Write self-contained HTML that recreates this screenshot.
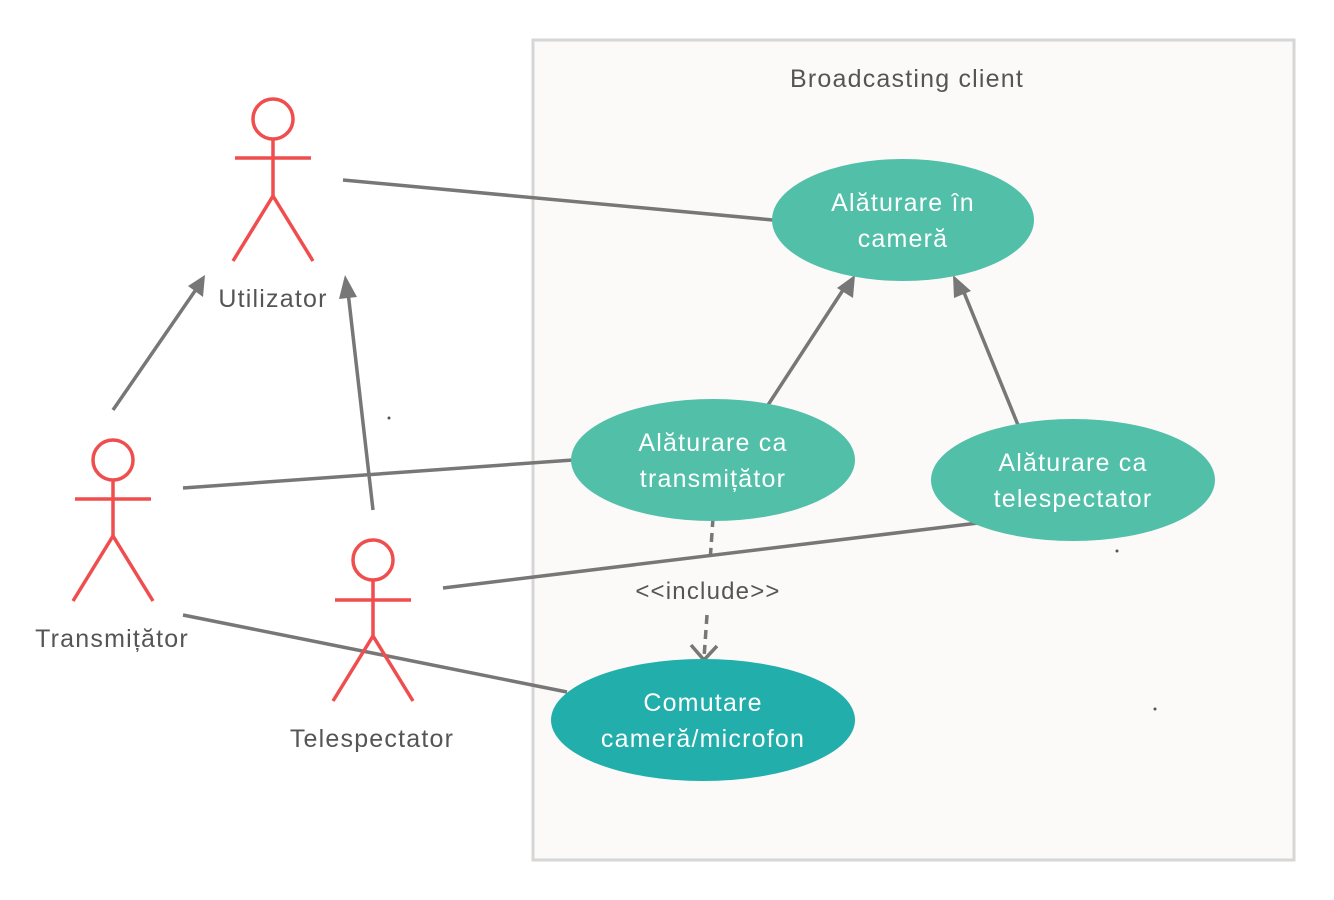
<!DOCTYPE html>
<html><head><meta charset="utf-8"><style>
html,body{margin:0;padding:0;background:#fff;width:1334px;height:900px;overflow:hidden}
text{font-family:"Liberation Sans","DejaVu Sans",sans-serif;letter-spacing:1.2px}
</style></head><body>
<svg width="1334" height="900" xmlns="http://www.w3.org/2000/svg">
<rect x="533" y="40" width="761" height="820" fill="#fbfaf9" stroke="#d6d6d6" stroke-width="3"/>
<text x="907" y="87" font-size="25" fill="#555" text-anchor="middle">Broadcasting client</text>
<g stroke="#777" stroke-width="3.5" fill="none">
<line x1="343" y1="180" x2="773" y2="220"/>
<line x1="113" y1="410" x2="197" y2="288"/>
<line x1="373" y1="510" x2="348" y2="292"/>
<line x1="768" y1="405" x2="843" y2="290"/>
<line x1="1018" y1="425" x2="963" y2="290"/>
<line x1="183" y1="488" x2="573" y2="460"/>
<line x1="443" y1="588" x2="978" y2="523"/>
<line x1="183" y1="615" x2="567" y2="692"/>
<line x1="713" y1="518" x2="710" y2="562" stroke-dasharray="9,6"/>
<line x1="707" y1="615" x2="704" y2="658" stroke-dasharray="9,6"/>
<polyline points="691,645 704,660 717,646"/>
</g>
<g fill="#777">
<polygon points="205,275 203,297 188,286"/>
<polygon points="345,275 357,297 339,299"/>
<polygon points="855,275 853,298 837,288"/>
<polygon points="953,275 971,291 954,298"/>
</g>
<text x="708" y="599" font-size="24" fill="#555" text-anchor="middle">&lt;&lt;include&gt;&gt;</text>
<ellipse cx="903" cy="220" rx="131" ry="61" fill="#52c0a9"/>
<ellipse cx="713" cy="460" rx="142" ry="61" fill="#52c0a9"/>
<ellipse cx="1073" cy="480" rx="142" ry="61" fill="#52c0a9"/>
<ellipse cx="703" cy="720" rx="152" ry="61" fill="#22aeab"/>
<g font-size="25" fill="#fff" text-anchor="middle">
<text x="903" y="211">Alăturare în</text><text x="903" y="247">cameră</text>
<text x="713" y="451">Alăturare ca</text><text x="713" y="487">transmițător</text>
<text x="1073" y="471">Alăturare ca</text><text x="1073" y="507">telespectator</text>
<text x="703" y="711">Comutare</text><text x="703" y="747">cameră/microfon</text>
</g>
<g stroke="#f04e4e" stroke-width="3.5" fill="none">
<circle cx="273" cy="119" r="20"/><line x1="273" y1="139" x2="273" y2="196"/><line x1="235" y1="158" x2="311" y2="158"/><polyline points="233,261 273,196 313,261"/>
<circle cx="113" cy="460" r="20"/><line x1="113" y1="480" x2="113" y2="536"/><line x1="75" y1="499" x2="151" y2="499"/><polyline points="73,601 113,536 153,601"/>
<circle cx="373" cy="560" r="20"/><line x1="373" y1="580" x2="373" y2="636"/><line x1="335" y1="600" x2="411" y2="600"/><polyline points="333,701 373,636 413,701"/>
</g>
<g font-size="25" fill="#555" text-anchor="middle">
<text x="273" y="307">Utilizator</text>
<text x="112" y="647">Transmițător</text>
<text x="372" y="747">Telespectator</text>
</g>
<g fill="#555"><circle cx="389" cy="418" r="1.5"/><circle cx="1117" cy="551" r="1.5"/><circle cx="1155" cy="709" r="1.5"/></g>
</svg>
</body></html>
